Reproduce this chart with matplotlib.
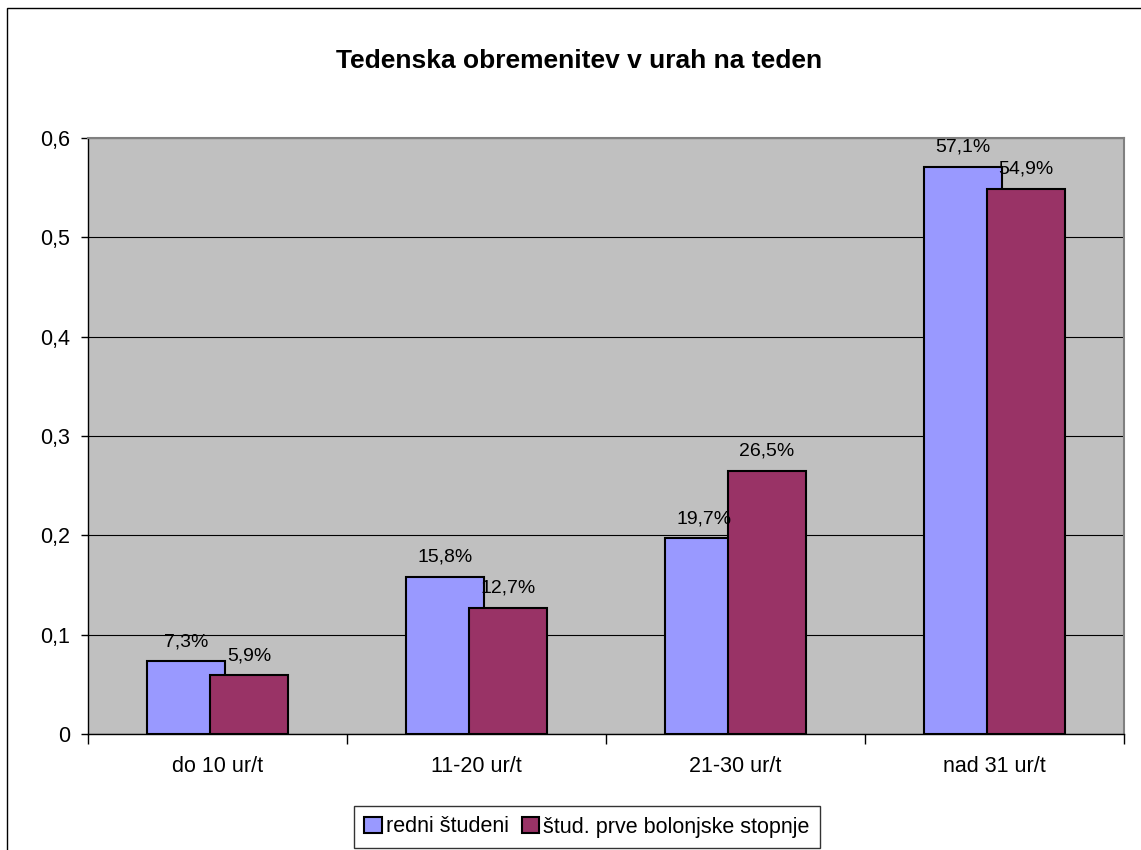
import matplotlib
matplotlib.use("Agg")
import matplotlib.pyplot as plt
from matplotlib.patches import Rectangle, Patch
import numpy as np

plt.rcParams['font.family'] = ['Liberation Sans', 'DejaVu Sans']

categories = ["do 10 ur/t", "11-20 ur/t", "21-30 ur/t", "nad 31 ur/t"]
redni = [0.073, 0.158, 0.197, 0.571]
bolonjski = [0.059, 0.127, 0.265, 0.549]
redni_labels = ["7,3%", "15,8%", "19,7%", "57,1%"]
bolonjski_labels = ["5,9%", "12,7%", "26,5%", "54,9%"]
series_names = ["redni študeni", "štud. prve bolonjske stopnje"]
yticks = [0, 0.1, 0.2, 0.3, 0.4, 0.5, 0.6]
ytick_labels = ["0", "0,1", "0,2", "0,3", "0,4", "0,5", "0,6"]

W, H = 1141, 850
fig = plt.figure(figsize=(W / 100, H / 100), dpi=100)
fig.patch.set_facecolor('white')

# outer chart border
fig.add_artist(Rectangle((7 / W, -0.1), 1.2, (H - 8) / H + 0.1, transform=fig.transFigure,
                         fill=False, edgecolor='black', linewidth=1.0))

left, right, top, bottom = 88, 1124, 138, 734
ax = fig.add_axes([left / W, 1 - bottom / H, (right - left) / W, (bottom - top) / H])
ax.set_facecolor('#C0C0C0')

x = np.arange(len(categories))
bw = 0.30
off = 0.122
c1, c2 = '#9999FF', '#993366'
ax.bar(x - off, redni, bw, color=c1, edgecolor='black', linewidth=1.5, zorder=3)
ax.bar(x + off, bolonjski, bw, color=c2, edgecolor='black', linewidth=1.5, zorder=4)

for xi, v, lab in zip(x - off, redni, redni_labels):
    ax.annotate(lab, (xi, v), xytext=(0, 8), textcoords='offset points', ha='center', va='bottom',
                fontsize=14, zorder=5)
for xi, v, lab in zip(x + off, bolonjski, bolonjski_labels):
    ax.annotate(lab, (xi, v), xytext=(0, 8), textcoords='offset points', ha='center', va='bottom',
                fontsize=14, zorder=5)

ax.set_xlim(-0.5, len(categories) - 0.5)
ax.set_ylim(0, 0.6)
ax.set_yticks(yticks)
ax.set_yticklabels(ytick_labels, fontsize=15.5)
ax.yaxis.grid(True, color='black', linewidth=0.8, zorder=1)
ax.set_axisbelow(True)
ax.tick_params(axis='y', direction='out', length=5, width=1, pad=8)

ax.set_xticks(np.arange(-0.5, len(categories), 1.0))
ax.set_xticklabels([])
ax.set_xticks(x, minor=True)
ax.set_xticklabels(categories, minor=True, fontsize=15.5)
ax.tick_params(axis='x', which='major', direction='out', length=7, width=1)
ax.tick_params(axis='x', which='minor', length=0, pad=16)

for s in ['top', 'right']:
    ax.spines[s].set_color('#808080')
    ax.spines[s].set_linewidth(1.5)
for s in ['left', 'bottom']:
    ax.spines[s].set_color('black')
    ax.spines[s].set_linewidth(1.0)

fig.text(579 / W, 1 - 61 / H, "Tedenska obremenitev v urah na teden",
         ha='center', va='center', fontsize=19, fontweight='bold')

handles = [Patch(facecolor=c1, edgecolor='black', linewidth=1.5),
           Patch(facecolor=c2, edgecolor='black', linewidth=1.5)]
leg = fig.legend(handles, series_names, loc='center', bbox_to_anchor=(587 / W, 1 - 827 / H),
                 ncol=2, fontsize=15.5, frameon=True, fancybox=False, handlelength=0.8,
                 handleheight=0.8, handletextpad=0.2, columnspacing=0.6, borderpad=0.5,
                 borderaxespad=0)
leg.get_frame().set_edgecolor('black')
leg.get_frame().set_linewidth(1.0)

fig.savefig("out.png", dpi=100)
